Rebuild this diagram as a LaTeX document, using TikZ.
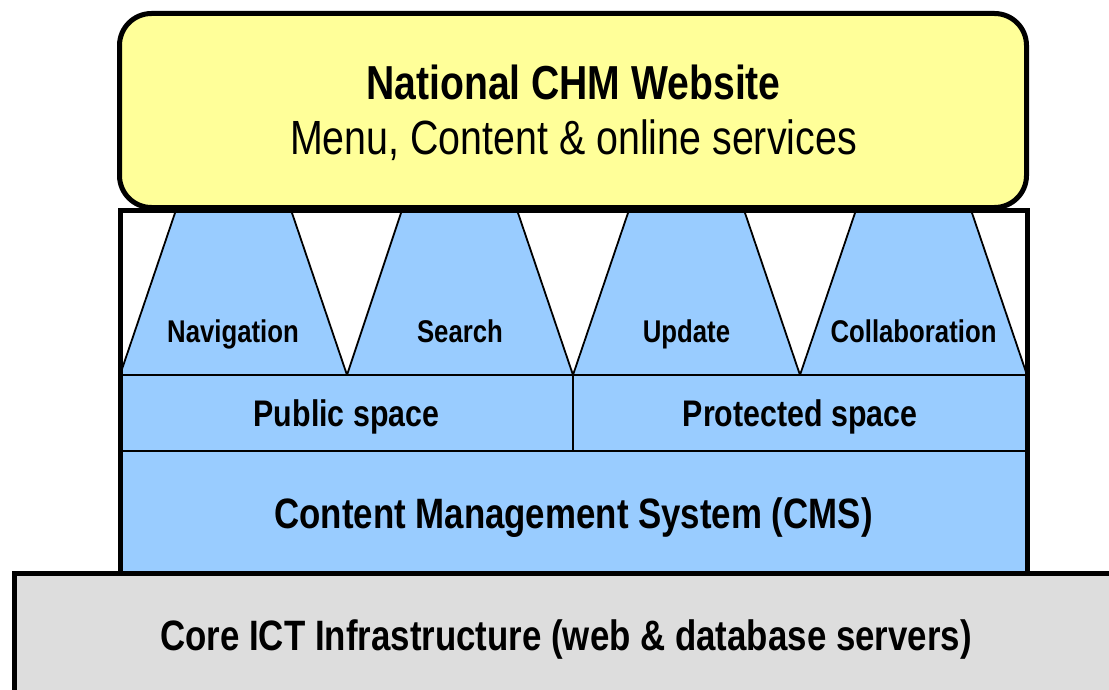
\documentclass[tikz,border=0pt]{standalone}
\usepackage{fontspec}
\setmainfont{Liberation Sans}[FakeStretch=0.82]
\definecolor{webyellow}{HTML}{FFFF99}
\definecolor{layerblue}{HTML}{99CCFF}
\definecolor{coregray}{HTML}{DDDDDD}
\begin{document}
\begin{tikzpicture}[x=1pt,y=-1pt,
  heavy/.style={draw=black, line width=5pt},
  light/.style={draw=black, line width=1.8pt, line join=miter},
  box/.style={inner sep=0pt, outer sep=0pt},
  tool/.style={light, fill=layerblue},
  txt/.style={anchor=base, inner sep=0pt},
  titlefont/.style={font=\fontsize{47.7}{50}\selectfont\bfseries},
  subfont/.style={font=\fontsize{48}{50}\selectfont},
  bigfont/.style={font=\fontsize{42.5}{45}\selectfont\bfseries},
  midfont/.style={font=\fontsize{37}{40}\selectfont\bfseries},
  smallfont/.style={font=\fontsize{31.4}{33}\selectfont\bfseries}]
\clip (0,0) rectangle (1109,690);
% outer white frame (fill only)
\node[box, fill=white, minimum width=907pt, minimum height=363pt] (frame) at (573.5,391.5) {};
% tool trapezoids
\path[tool] (120,375) -- (176,210) -- (291,210) -- (347,375) -- cycle;
\path[tool] (347,375) -- (402,210) -- (517,210) -- (573,375) -- cycle;
\path[tool] (573,375) -- (629,210) -- (744,210) -- (800,375) -- cycle;
\path[tool] (800,375) -- (856,210) -- (971,210) -- (1027,375) -- cycle;
\node[txt, smallfont] (nav) at (233,342) {Navigation};
\node[txt, smallfont] (search) at (460,342) {Search};
\node[txt, smallfont] (update) at (686.5,342) {Update};
\node[txt, smallfont] (collab) at (913.5,342) {Collaboration};
% spaces
\node[box, light, fill=layerblue, minimum width=453pt, minimum height=76pt] (public) at (346.5,413) {};
\node[box, light, fill=layerblue, minimum width=454pt, minimum height=76pt] (protected) at (800,413) {};
\node[txt, midfont] (publictext) at (346.5,426.5) {Public space};
\node[txt, midfont] (protectedtext) at (800,426.5) {Protected space};
% CMS
\node[box, light, fill=layerblue, minimum width=907pt, minimum height=122pt] (cms) at (573.5,512) {};
\node[txt, bigfont] (cmstext) at (573.5,528.5) {Content Management System (CMS)};
% frame outline
\draw[heavy] (frame.north west) rectangle (frame.south east);
% website box
\node[box, heavy, fill=webyellow, rounded corners=32pt, minimum width=907pt, minimum height=194pt] (web) at (573,110.5) {};
\node[txt, titlefont] (title) at (573.5,100) {National CHM Website};
\node[txt, subfont] (subtitle) at (573.5,155) {Menu, Content \& online services};
% core infrastructure
\node[box, heavy, fill=coregray, minimum width=1120pt, minimum height=140pt] (core) at (574.5,643) {};
\node[txt, bigfont] (coretext) at (566,650) {Core ICT Infrastructure (web \& database servers)};
\end{tikzpicture}
\end{document}
